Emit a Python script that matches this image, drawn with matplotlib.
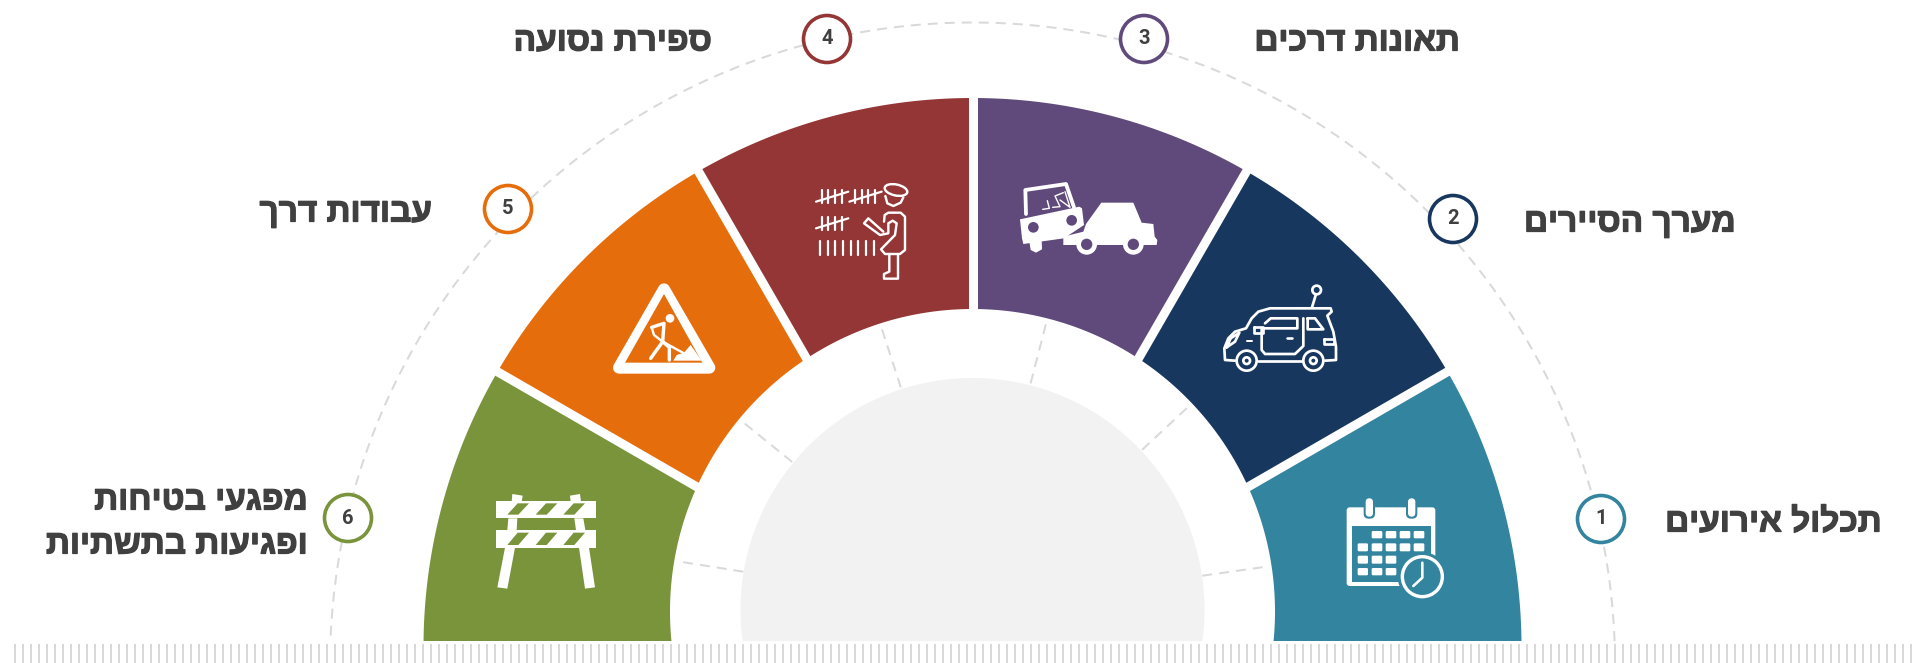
import numpy as np
import matplotlib
matplotlib.use('Agg')
import matplotlib.pyplot as plt
import matplotlib.patheffects as pe
from matplotlib.patches import Polygon, Circle, FancyBboxPatch, Ellipse, Rectangle

# data
labels = ['תכלול אירועים', 'מערך הסיירים', 'תאונות דרכים', 'ספירת נסועה', 'עבודות דרך',
          'מפגעי בטיחות\nופגיעות בתשתיות']
numbers = ['1', '2', '3', '4', '5', '6']
shares = [1, 1, 1, 1, 1, 1]
colors = ['#33849E', '#18375F', '#5F4A7B', '#953636', '#E56D0B', '#7A943C']
spoke_angles = [8, 43, 75.5, 108, 141, 171]

# layout, all in image pixels
W, H = 1919, 663
CX = 972.5
BASE_Y = 641
RAY_Y = 646
OUTER = (647, 549)
INNER = (611.5, 302.5)
GREY = (610, 232)
DASH = (665, 642.5)
circle_pos = [(1601, 519), (1453, 219), (1144, 39), (827, 39), (508, 209), (348, 518)]
label_pos = [(1882, 523), (1736, 223), (1460, 42), (712, 42), (432, 213), (308, 523)]
TEXT = '#404040'
PX = 0.72  # one pixel in points at dpi 100


def ray_hit(theta, cy, r):
    h = RAY_Y - cy
    s = np.sin(theta)
    return h * s + np.sqrt(h * h * s * s - h * h + r * r)


def ray_point(theta, t):
    return CX + t * np.cos(theta), RAY_Y - t * np.sin(theta)


fig = plt.figure(figsize=(W / 100, H / 100), dpi=100)
ax = fig.add_axes([0, 0, 1, 1])
ax.set_xlim(0, W)
ax.set_ylim(H, 0)
ax.axis('off')

# grey half disc
a = np.linspace(-np.arcsin((BASE_Y - GREY[0]) / GREY[1]), np.pi + np.arcsin((BASE_Y - GREY[0]) / GREY[1]), 200)
ax.fill(CX + GREY[1] * np.cos(a), GREY[0] - GREY[1] * np.sin(a), color='#f2f2f2', lw=0)

# dashed lines
dash_style = (0, (5, 3.5))
a0 = np.arcsin((DASH[0] - BASE_Y) / DASH[1])
a = np.linspace(a0, np.pi - a0, 400)
ax.plot(CX + DASH[1] * np.cos(a), DASH[0] - DASH[1] * np.sin(a), color='#d9d9d9', lw=2 * PX, ls=dash_style)
for ang in spoke_angles:
    t = np.radians(ang)
    ax.plot([CX + 232 * np.cos(t), CX + 300 * np.cos(t)], [608 - 232 * np.sin(t), 608 - 300 * np.sin(t)],
            color='#d9d9d9', lw=2 * PX, ls=dash_style)

# ring sectors from the shares
edges = np.concatenate([[0], np.cumsum(shares)]) / np.sum(shares) * np.pi
for i, col in enumerate(colors):
    th = np.linspace(edges[i], edges[i + 1], 60)
    out = [ray_point(t, ray_hit(t, *OUTER)) for t in th]
    inn = [ray_point(t, ray_hit(t, *INNER)) for t in th[::-1]]
    ax.add_patch(Polygon(out + inn, closed=True, fc=col, ec='none', zorder=2))
for e in edges[1:-1]:
    p0 = ray_point(e, ray_hit(e, *INNER) - 12)
    p1 = ray_point(e, ray_hit(e, *OUTER) + 12)
    ax.plot([p0[0], p1[0]], [p0[1], p1[1]], color='white', lw=9 * PX, solid_capstyle='butt', zorder=3)

# the rays start under the baseline, cut the ring there
ax.add_patch(Rectangle((0, BASE_Y), W, H - BASE_Y, fc='white', ec='none', zorder=3.5))
# ticks along the bottom
ax.vlines(np.arange(15, W, 8), 644, H, color='#d9d9d9', lw=2 * PX, zorder=3.6)


# icons are traced in zoomed crop coordinates: origin + value / 3
def mapper(ox, oy):
    return lambda pts: [(ox + x / 3, oy + y / 3) for x, y in pts]


def line(m, pts, lw=2.7, col='white', z=5):
    xy = np.array(m(pts))
    ax.plot(xy[:, 0], xy[:, 1], color=col, lw=lw * PX, solid_capstyle='round', solid_joinstyle='round', zorder=z)


def poly(m, pts, col='white', z=5):
    ax.add_patch(Polygon(m(pts), closed=True, fc=col, ec='none', zorder=z))


def disc(m, x, y, r, col='white', z=5, ec='none', lw=0):
    (cx, cy), = m([(x, y)])
    ax.add_patch(Circle((cx, cy), r / 3, fc=col, ec=ec, lw=lw * PX, zorder=z))


def rbox(m, x0, y0, x1, y1, col='white', z=5, rad=6):
    (a0_, b0), (a1_, b1) = m([(x0, y0), (x1, y1)])
    pad = rad / 3
    ax.add_patch(FancyBboxPatch((a0_ + pad, b0 + pad), a1_ - a0_ - 2 * pad, b1 - b0 - 2 * pad,
                                boxstyle='round,pad=%f,rounding_size=%f' % (pad, pad), fc=col, ec='none', zorder=z))


def calendar_icon():
    c = colors[0]
    m = mapper(1330, 480)
    rbox(m, 50, 82, 316, 318, rad=9)
    poly(m, [(65, 138), (303, 138), (303, 305), (65, 305)], col=c, z=5.1)
    for x in [118, 245]:
        rbox(m, x - 17, 48, x + 17, 116, col=c, z=5.2, rad=15)
        rbox(m, x - 11, 55, x + 11, 110, z=5.3, rad=11)
    rows = [(153, 175), (190, 214), (227, 251), (264, 286)]
    cols = [(83, 114), (125, 157), (167, 199), (209, 241), (251, 283)]
    used = [[1, 2, 3, 4], [0, 1, 2, 3, 4], [0, 1, 2], [0, 1, 2]]
    for (y0, y1), row in zip(rows, used):
        for k in row:
            rbox(m, cols[k][0], y0, cols[k][1], y1, z=5.2, rad=4)
    disc(m, 277, 290, 74, col=c, z=5.4)
    disc(m, 277, 290, 60, col=c, z=5.5, ec='white', lw=3.4)
    line(m, [(277, 248), (277, 293), (250, 318)], lw=2.6, z=5.6)


def car_icon():
    m = mapper(960, 90)
    line(m, [(825, 812), (795, 810), (793, 775), (805, 745), (825, 725), (858, 715), (875, 685), (895, 665), (930, 655),
             (1112, 655), (1115, 665), (1102, 677), (1120, 725), (1128, 770), (1128, 810), (1095, 812)])
    line(m, [(895, 812), (1025, 812)])
    for x in [860, 1060]:
        disc(m, x, 812, 30, col=colors[1], ec='white', lw=2.7)
        disc(m, x, 812, 10, col=colors[1], ec='white', lw=2.7, z=5.5)
    line(m, [(915, 700), (932, 685), (1012, 685), (1012, 715), (905, 715), (905, 780), (915, 792), (1005, 792),
             (1030, 768), (1030, 685)])
    line(m, [(1043, 685), (1065, 685), (1090, 718), (1043, 718), (1043, 685)])
    line(m, [(980, 745), (996, 745)], lw=2.6)
    line(m, [(882, 712), (910, 712), (910, 730), (882, 730), (882, 712)], z=5.1)
    line(m, [(800, 772), (812, 745), (838, 728), (825, 755), (800, 772)])
    line(m, [(860, 753), (875, 753)], lw=2)
    line(m, [(1092, 748), (1122, 748), (1122, 762), (1092, 762), (1092, 748)])
    disc(m, 1070, 600, 13, col=colors[1], ec='white', lw=2.7)
    line(m, [(1067, 616), (1056, 652)])


def crash_icon():
    c = colors[2]
    m = mapper(960, 90)
    line(m, [(198, 372), (196, 300), (318, 282), (342, 352)], lw=3.8)
    poly(m, [(180, 388), (358, 350), (366, 355), (372, 405), (312, 445), (190, 462), (186, 445)])
    poly(m, [(208, 455), (245, 448), (246, 478), (228, 488), (212, 480)])
    disc(m, 220, 412, 16, col=c, z=5.1)
    disc(m, 335, 391, 16, col=c, z=5.1)
    for pts in [[(248, 358), (268, 355), (262, 332)], [(278, 352), (300, 350), (285, 318), (310, 308)],
                [(300, 330), (330, 352), (315, 305)]]:
        line(m, pts, lw=1.4)
    poly(m, [(378, 402), (424, 338), (520, 338), (545, 398), (580, 402), (584, 440), (592, 450), (590, 465), (310, 465),
             (310, 440), (370, 425)])
    for x in [380, 520]:
        disc(m, x, 463, 31, z=5.1)
        disc(m, x, 463, 17, col=c, z=5.2)


def tally_icon():
    m = mapper(480, 90)
    for x0, y0, n, step in [(1025, 300, 4, 20), (1125, 300, 4, 20), (1025, 380, 4, 20)]:
        for k in range(n):
            line(m, [(x0 + k * step, y0), (x0 + k * step, y0 + 40)], lw=2.2)
        line(m, [(x0 - 17, y0 + 35), (x0 + 80, y0 + 5)], lw=2.2)
    for k in range(8):
        x = 1020 + k * 23
        line(m, [(x, 453), (x, 495)], lw=2.2)
    (hx, hy), = m([(1248, 300)])
    ax.add_patch(Ellipse((hx, hy), 23, 11, angle=12, fc='none', ec='white', lw=2.4 * PX, zorder=5))
    line(m, [(1216, 318), (1222, 340), (1240, 348), (1262, 338), (1270, 322)], lw=2.4)
    line(m, [(1212, 395), (1214, 375), (1225, 368), (1262, 368), (1275, 380), (1275, 480), (1260, 492), (1215, 492),
             (1203, 478), (1245, 435), (1250, 400), (1238, 392), (1225, 400), (1225, 430), (1200, 435), (1152, 400),
             (1165, 385), (1210, 425)], lw=2.4)
    line(m, [(1228, 492), (1228, 545), (1212, 552), (1212, 566), (1254, 566), (1254, 492)], lw=2.4)


def works_icon():
    c = colors[4]
    m = mapper(480, 90)
    xy = m([(552, 598), (417, 833), (688, 833)])
    ax.add_patch(Polygon(xy, closed=True, fc='white', ec='white', lw=12 * PX, joinstyle='round', zorder=5))
    poly(m, [(552, 612), (435, 818), (667, 818)], col=c, z=5.1)
    disc(m, 570, 685, 13, z=5.2)
    line(m, [(515, 712), (552, 700), (548, 755), (512, 805)], lw=3.4, z=5.2)
    line(m, [(548, 755), (568, 772), (568, 810)], lw=3.4, z=5.2)
    line(m, [(515, 712), (522, 735), (548, 755), (612, 790)], lw=2.4, z=5.2)
    poly(m, [(580, 812), (590, 795), (612, 788), (632, 765), (665, 812)], z=5.2)


def barrier_icon():
    c = colors[5]
    m = mapper(480, 480)
    poly(m, [(97, 42), (128, 47), (125, 65), (95, 65)])
    poly(m, [(270, 47), (300, 42), (303, 65), (272, 65)])
    poly(m, [(48, 62), (348, 62), (348, 115), (48, 115)])
    poly(m, [(48, 150), (348, 150), (348, 203), (48, 203)])
    poly(m, [(85, 115), (112, 115), (110, 150), (82, 150)])
    poly(m, [(283, 115), (310, 115), (316, 150), (288, 150)])
    poly(m, [(75, 203), (105, 203), (82, 326), (52, 322)])
    poly(m, [(297, 203), (327, 203), (345, 322), (315, 326)])
    for y0, y1 in [(70, 104), (158, 195)]:
        for x0 in [82, 167, 250]:
            poly(m, [(x0, y1), (x0 + 31, y0), (x0 + 65, y0), (x0 + 33, y1)], col=c, z=5.1)


for icon in [calendar_icon, car_icon, crash_icon, tally_icon, works_icon, barrier_icon]:
    icon()

# numbered circles and labels
for (x, y), n, col in zip(circle_pos, numbers, colors):
    ax.add_patch(Circle((x, y), 23.5, fc='white', ec=col, lw=3.6 * PX, zorder=6))
    ax.text(x, y, n, ha='center', va='center', family='Roboto', weight='bold', fontsize=14.5, color=TEXT, zorder=7)

for (x, y), lab in zip(label_pos, labels):
    rows = lab.split('\n')
    for k, row in enumerate(rows):
        # matplotlib has no bidi, so hebrew goes in reversed
        yy = y + (k - (len(rows) - 1) / 2) * 44
        ax.text(x, yy, row[::-1], ha='right', va='center', family='Liberation Sans', weight='bold', fontsize=24,
                color=TEXT, path_effects=[pe.withStroke(linewidth=0.9, foreground=TEXT)])

fig.savefig('out.png', dpi=100, facecolor='white')
